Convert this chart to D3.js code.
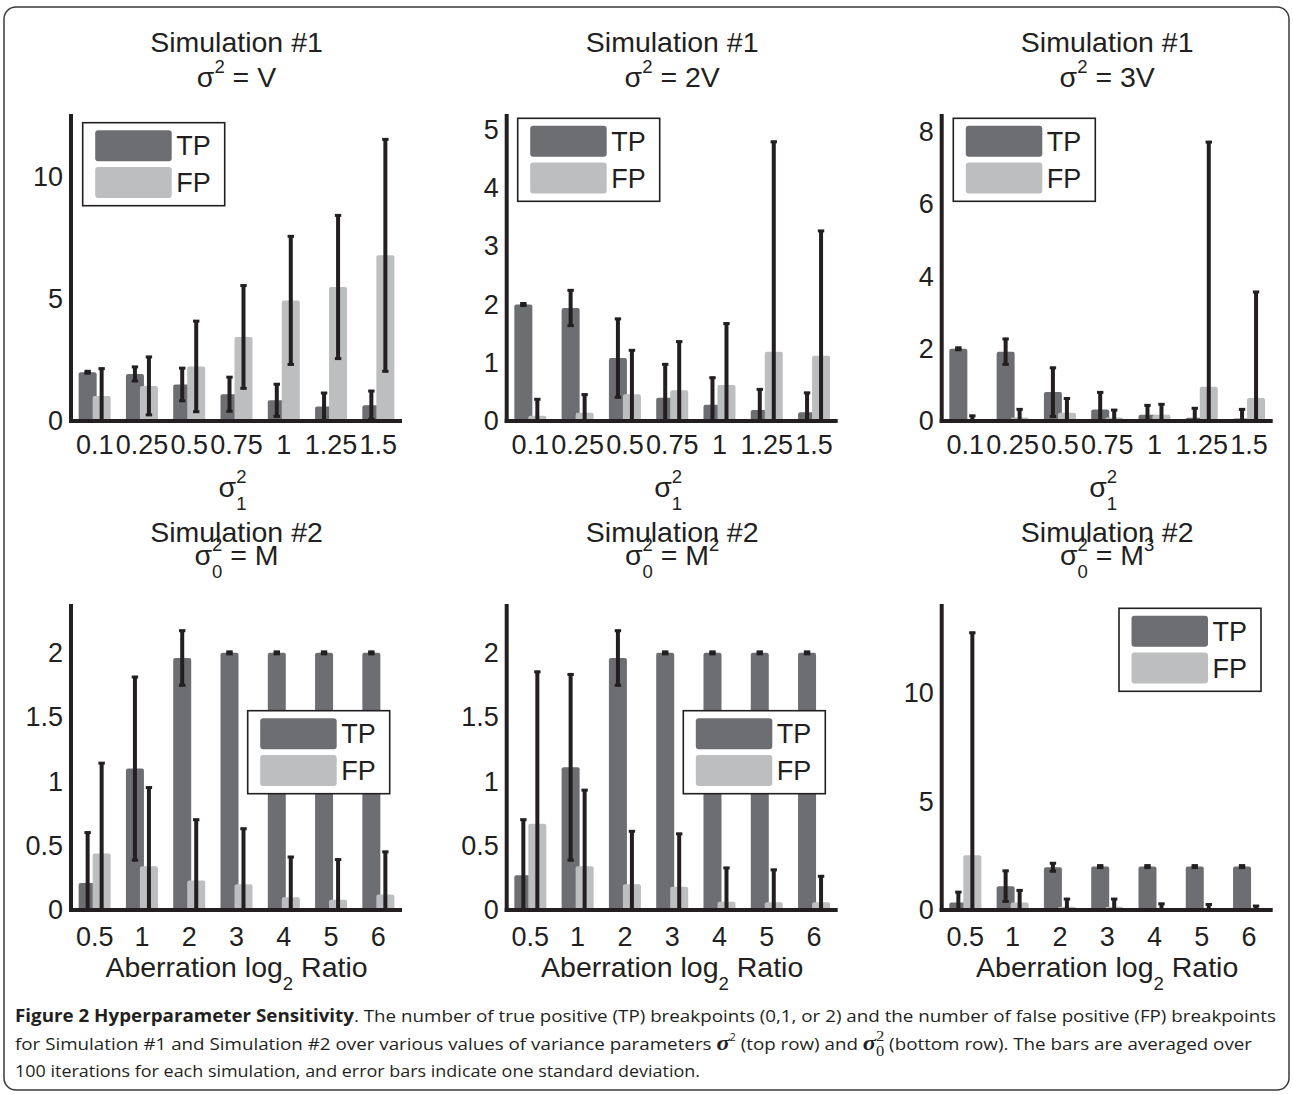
<!DOCTYPE html>
<html><head><meta charset="utf-8">
<script src="https://cdn.jsdelivr.net/npm/d3@7"></script>
<style>body{margin:0;background:#fff}svg{display:block;background:#fff}</style>
</head><body><svg id="chart" width="1293" height="1094"></svg>
<script>
// ---------- categories ----------
const sim1Categories = ["0.1","0.25","0.5","0.75","1","1.25","1.5"];
const sim2Categories = ["0.5","1","2","3","4","5","6"];
const seriesNames = ["TP","FP"];

// ---------- Simulation #1, sigma^2 = V ----------
const s1vTP   = [2.0, 1.93, 1.5, 1.1, 0.85, 0.59, 0.65];
const s1vTPsd = [0, 0.33, 0.71, 0.74, 0.7, 0.6, 0.62];
const s1vFP   = [1.03, 1.44, 2.24, 3.45, 4.95, 5.5, 6.8];
const s1vFPsd = [1.16, 1.23, 1.9, 2.15, 2.67, 2.98, 4.8];

// ---------- Simulation #1, sigma^2 = 2V ----------
const s1v2TP   = [2.0, 1.94, 1.08, 0.4, 0.28, 0.19, 0.15];
const s1v2TPsd = [0, 0.32, 0.69, 0.59, 0.48, 0.37, 0.35];
const s1v2FP   = [0.09, 0.14, 0.46, 0.53, 0.62, 1.19, 1.12];
const s1v2FPsd = [0.3, 0.33, 0.77, 0.85, 1.07, 3.62, 2.16];

// ---------- Simulation #1, sigma^2 = 3V ----------
const s1v3TP   = [2.0, 1.92, 0.8, 0.32, 0.17, 0.09, 0.07];
const s1v3TPsd = [0, 0.38, 0.7, 0.5, 0.29, 0.29, 0.28];
const s1v3FP   = [0.05, 0.1, 0.23, 0.1, 0.17, 0.95, 0.64];
const s1v3FPsd = [0.12, 0.25, 0.42, 0.23, 0.32, 6.8, 2.96];

// ---------- Simulation #2, sigma0^2 = M ----------
const s2mTP   = [0.21, 1.1, 1.96, 2, 2, 2, 2];
const s2mTPsd = [0.4, 0.72, 0.22, 0, 0, 0, 0];
const s2mFP   = [0.44, 0.34, 0.23, 0.2, 0.1, 0.08, 0.12];
const s2mFPsd = [0.71, 0.62, 0.48, 0.44, 0.32, 0.32, 0.34];

// ---------- Simulation #2, sigma0^2 = M^2 ----------
const s2m2TP   = [0.27, 1.11, 1.96, 2, 2, 2, 2];
const s2m2TPsd = [0.44, 0.73, 0.22, 0, 0, 0, 0];
const s2m2FP   = [0.67, 0.34, 0.2, 0.18, 0.065, 0.06, 0.06];
const s2m2FPsd = [1.19, 0.6, 0.42, 0.42, 0.27, 0.26, 0.21];

// ---------- Simulation #2, sigma0^2 = M^3 ----------
const s2m3TP   = [0.35, 1.1, 1.97, 2, 2, 2, 2];
const s2m3TPsd = [0.52, 0.75, 0.23, 0, 0, 0, 0];
const s2m3FP   = [2.52, 0.35, 0.15, 0.15, 0.08, 0.08, 0.06];
const s2m3FPsd = [10.3, 0.6, 0.4, 0.4, 0.25, 0.22, 0.17];

// ---------- axis limits and tick labels ----------
const yMax = [12.6, 5.27, 8.5, 2.38, 2.38, 14.1];
const yTicks = [[0,5,10],[0,1,2,3,4,5],[0,2,4,6,8],[0,0.5,1,1.5,2],[0,0.5,1,1.5,2],[0,5,10]];

// ---------- titles ----------
const titleLine1 = ["Simulation #1","Simulation #1","Simulation #1","Simulation #2","Simulation #2","Simulation #2"];
const titleLine2 = [
  [{t:"σ"},{t:"2",sup:true},{t:" = V"}],
  [{t:"σ"},{t:"2",sup:true},{t:" = 2V"}],
  [{t:"σ"},{t:"2",sup:true},{t:" = 3V"}],
  [{t:"σ"},{t:"0",sub:true},{t:"2",sup:true,back:true},{t:" = M"}],
  [{t:"σ"},{t:"0",sub:true},{t:"2",sup:true,back:true},{t:" = M"},{t:"2",sup:true}],
  [{t:"σ"},{t:"0",sub:true},{t:"2",sup:true,back:true},{t:" = M"},{t:"3",sup:true}]
];
const xLabelTop = [{t:"σ"},{t:"1",sub:true},{t:"2",sup:true,back:true}];
const xLabelBottom = [{t:"Aberration log"},{t:"2",sub:true},{t:" Ratio"}];

// ---------- styling / layout ----------
const INK = "#231f20", TPC = "#6d6e71", FPC = "#bcbec0";
const FONT = "'Liberation Sans', Arial, Helvetica, sans-serif";
const TFS = 28.5;
const AXW = 331;
const layout = [
  {left:71,    top:114, base:421, legend:[82.7,122.7]},
  {left:506.7, top:114, base:421, legend:[517.7,118.3]},
  {left:941.7, top:114, base:421, legend:[953.3,118.3]},
  {left:71,    top:604, base:910, legend:[247.7,710.7]},
  {left:506.7, top:604, base:910, legend:[683.3,710.7]},
  {left:941.7, top:604, base:910, legend:[1119,608.3]}
];
const data = [
  [s1vTP,s1vTPsd,s1vFP,s1vFPsd],
  [s1v2TP,s1v2TPsd,s1v2FP,s1v2FPsd],
  [s1v3TP,s1v3TPsd,s1v3FP,s1v3FPsd],
  [s2mTP,s2mTPsd,s2mFP,s2mFPsd],
  [s2m2TP,s2m2TPsd,s2m2FP,s2m2FPsd],
  [s2m3TP,s2m3TPsd,s2m3FP,s2m3FPsd]
];

const svg = d3.select("#chart");
svg.append("rect").attr("x",4).attr("y",7).attr("width",1285).attr("height",1083)
  .attr("rx",12).attr("fill","none").attr("stroke","#3a3a3a").attr("stroke-width",1.5);

function rich(parent, x, y, segs, size, anchor) {
  const t = parent.append("text").attr("x",x).attr("y",y)
    .attr("text-anchor",anchor||"middle").attr("font-size",size)
    .attr("font-family",FONT).attr("fill",INK);
  let shift = 0;
  segs.forEach(s => {
    let target = 0, fs = size;
    if (s.sup) { target = -0.5*size; fs = 0.65*size; }
    if (s.sub) { target = 0.45*size; fs = 0.65*size; }
    const ts = t.append("tspan").attr("font-size",fs).attr("dy",target-shift).text(s.t);
    if (s.back) ts.attr("dx", -0.556*0.65*size);
    shift = target;
  });
  return t;
}

data.forEach((d, i) => {
  const L = layout[i];
  const cats = i < 3 ? sim1Categories : sim2Categories;
  const [tp, tpsd, fp, fpsd] = d;
  const g = svg.append("g");
  const x = d3.scaleBand().domain(cats).range([L.left, L.left + AXW]).padding(0);
  const y = d3.scaleLinear().domain([0, yMax[i]]).range([L.base, L.top]);
  const bw = 18, off = 7;
  const series = [
    {vals: tp, sd: tpsd, color: TPC, dx: -off},
    {vals: fp, sd: fpsd, color: FPC, dx: off}
  ];
  series.forEach(s => {
    g.selectAll(null).data(cats).enter().append("rect")
      .attr("x", c => x(c) + x.bandwidth()/2 + s.dx - bw/2)
      .attr("width", bw)
      .attr("y", (c, j) => y(s.vals[j]))
      .attr("height", (c, j) => y(0) - y(s.vals[j]))
      .attr("rx", 2).attr("fill", s.color);
  });
  series.forEach(s => {
    cats.forEach((c, j) => {
      const cx = x(c) + x.bandwidth()/2 + s.dx;
      const hi = s.vals[j] + s.sd[j];
      const lo = Math.max(0, s.vals[j] - s.sd[j]);
      g.append("line").attr("x1",cx).attr("x2",cx).attr("y1",y(hi)).attr("y2",y(lo))
        .attr("stroke",INK).attr("stroke-width",4);
      g.append("line").attr("x1",cx-3.2).attr("x2",cx+3.2).attr("y1",y(hi)+1).attr("y2",y(hi)+1)
        .attr("stroke",INK).attr("stroke-width",3);
      if (s.vals[j] - s.sd[j] > 0)
        g.append("line").attr("x1",cx-3.2).attr("x2",cx+3.2).attr("y1",y(lo)-1).attr("y2",y(lo)-1)
          .attr("stroke",INK).attr("stroke-width",3);
    });
  });
  g.append("line").attr("x1",L.left).attr("x2",L.left).attr("y1",L.top).attr("y2",L.base+2)
    .attr("stroke",INK).attr("stroke-width",4);
  g.append("line").attr("x1",L.left-2).attr("x2",L.left+AXW).attr("y1",L.base).attr("y2",L.base)
    .attr("stroke",INK).attr("stroke-width",4);
  const ya = g.append("g").attr("transform",`translate(${L.left-1},0)`)
    .call(d3.axisLeft(y).tickValues(yTicks[i]).tickFormat(v => String(v)).tickSize(0).tickPadding(7));
  ya.select(".domain").remove();
  ya.attr("font-family",FONT).attr("font-size",27);
  ya.selectAll("text").attr("fill",INK);
  const xa = g.append("g").attr("transform",`translate(0,${L.base})`)
    .call(d3.axisBottom(x).tickSize(0).tickPadding(i < 3 ? 14 : 17));
  xa.select(".domain").remove();
  xa.attr("font-family",FONT).attr("font-size",27);
  xa.selectAll("text").attr("fill",INK);
  const cxm = L.left + AXW/2;
  if (i < 3) {
    svg.append("text").attr("x",cxm).attr("y",52).attr("text-anchor","middle")
      .attr("font-family",FONT).attr("font-size",TFS).attr("fill",INK).text(titleLine1[i]);
    rich(svg, cxm, 87, titleLine2[i], TFS);
    rich(svg, cxm - 4, 497, xLabelTop, TFS);
  } else {
    svg.append("text").attr("x",cxm).attr("y",542).attr("text-anchor","middle")
      .attr("font-family",FONT).attr("font-size",TFS).attr("fill",INK).text(titleLine1[i]);
    rich(svg, cxm, 565, titleLine2[i], TFS);
    rich(svg, cxm, 977, xLabelBottom, TFS);
  }
  const lg = svg.append("g").attr("transform",`translate(${L.legend[0]},${L.legend[1]})`);
  lg.append("rect").attr("width",142).attr("height",83).attr("fill","#fff")
    .attr("stroke",INK).attr("stroke-width",1.6);
  [TPC, FPC].forEach((col, k) => {
    lg.append("rect").attr("x",12.5).attr("y",7.5 + k*36.7).attr("width",76.5).attr("height",31)
      .attr("rx",3).attr("fill",col);
    lg.append("text").attr("x",93.5).attr("y",7.5 + k*36.7 + 15.5).attr("dy","0.36em")
      .attr("font-family",FONT).attr("font-size",27).attr("fill",INK).text(seriesNames[k]);
  });
});

// ---------- caption ----------
const CF = "'Open Sans', 'Noto Sans', sans-serif";
const SF = "'Liberation Serif', 'DejaVu Serif', serif";
const CS = 17;
const c1 = svg.append("text").attr("x",15).attr("y",1022).attr("font-family",CF)
  .attr("font-size",CS).attr("fill",INK).attr("textLength",1261).attr("lengthAdjust","spacingAndGlyphs");
c1.append("tspan").attr("font-weight","bold").text("Figure 2 Hyperparameter Sensitivity");
c1.append("tspan").text(". The number of true positive (TP) breakpoints (0,1, or 2) and the number of false positive (FP) breakpoints");

const c2 = svg.append("text").attr("x",15).attr("y",1050).attr("font-family",CF)
  .attr("font-size",CS).attr("fill",INK).attr("textLength",1237).attr("lengthAdjust","spacingAndGlyphs");
c2.append("tspan").text("for Simulation #1 and Simulation #2 over various values of variance parameters ");
c2.append("tspan").attr("font-family",SF).attr("font-style","italic").attr("font-weight","bold").attr("font-size",22).text("σ");
c2.append("tspan").attr("font-size",10).attr("dy",-9).text("2");
c2.append("tspan").attr("dy",9).text(" (top row) and ");
c2.append("tspan").attr("font-family",SF).attr("font-style","italic").attr("font-weight","bold").attr("font-size",22).text("σ");
c2.append("tspan").attr("font-family",SF).attr("font-size",15).attr("dy",6).text("0");
c2.append("tspan").attr("font-family",SF).attr("font-size",15).attr("dx",-7.5).attr("dy",-15).text("2");
c2.append("tspan").attr("dy",9).text(" (bottom row). The bars are averaged over");

svg.append("text").attr("x",15).attr("y",1077).attr("font-family",CF)
  .attr("font-size",CS).attr("fill",INK).attr("textLength",685).attr("lengthAdjust","spacingAndGlyphs")
  .text("100 iterations for each simulation, and error bars indicate one standard deviation.");
</script>
</body></html>
